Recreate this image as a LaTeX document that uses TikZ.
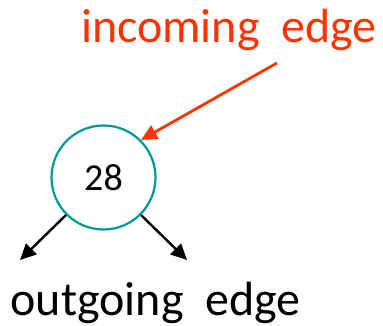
\documentclass[tikz,border=0pt]{standalone}
\usepackage{fontspec}
\setmainfont{Carlito}
\usepackage{xcolor}
\usetikzlibrary{arrows.meta}
\definecolor{incred}{RGB}{255,51,0}
\definecolor{vtxteal}{RGB}{0,153,153}

\begin{document}
\begin{tikzpicture}[x=1pt,y=-1pt,
  vrtx/.style = {circle, draw=vtxteal, line width=2.2pt, minimum size=104pt, inner sep=0pt, font=\fontsize{38}{44}\selectfont},
  lbl/.style = {anchor=base west, inner sep=0pt, font=\fontsize{48}{56}\selectfont},
  edg/.style = {line width=2.4pt, -{Triangle[length=16pt,width=15pt]}}]
\useasboundingbox (0,0) rectangle (383,326);
\node (v) [vrtx] at (103.5,177.5) {28};
\node (inlbl) [lbl, text=incred] at (81,43) {incoming~~edge};
\node (outlbl) [lbl] at (10.5,315) {outgoing~~edge};
\coordinate (src) at (277,63);
\coordinate (c1) at (20,260);
\coordinate (c2) at (187,260);
\draw [edg, draw=incred, fill=incred, line width=2.8pt] (src) -- (v.45);
\foreach \from/\to in {v.225/c1, v.-45/c2}
\draw [edg, fill=black] (\from) -- (\to);
\end{tikzpicture}
\end{document}
